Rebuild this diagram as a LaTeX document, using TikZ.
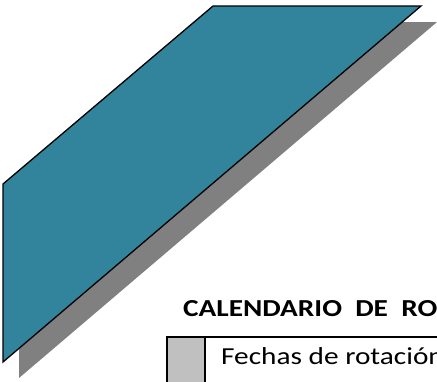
\documentclass[tikz,border=0pt]{standalone}
\usepackage{fontspec}
\setmainfont{Carlito}
\usetikzlibrary{calc,positioning}
\definecolor{banner}{HTML}{31849B}
\definecolor{shade}{HTML}{808080}
\definecolor{cell}{HTML}{C0C0C0}
\newcommand{\widen}[1]{\scalebox{1.2}[1]{#1}}
\tikzset{
  band/.style={fill=banner, draw=black, line width=1.3bp, line join=miter},
  shadow/.style={fill=shade},
  box/.style={draw=black, line width=1.3bp},
  head/.style={font=\fontsize{24.5}{30}\selectfont\bfseries, inner sep=0pt, anchor=base west},
  txt/.style={font=\fontsize{24.5}{30}\selectfont, inner sep=0pt, anchor=base west},
}
\begin{document}
\begin{tikzpicture}[x=1bp,y=-1bp]
  \useasboundingbox (0,0) rectangle (437,381);
  \clip (0,0) rectangle (437,381);
  \coordinate (A) at (3,184);
  \coordinate (B) at (213,6);
  \coordinate (C) at (421,6);
  \coordinate (D) at (3,362);

  % shadow behind the band
  \fill[shadow] ($(A)+(16,16)$) -- ($(B)+(16,16)$) -- ($(C)+(16,16)$) -- ($(D)+(16,16)$) -- cycle;
  \draw[band] (A) -- (B) -- (C) -- (D) -- cycle;

  \node[head] (title) at (183,316) {\widen{CALENDARIO~~DE~~RO}};

  % legend row
  \coordinate (R1) at (167,337);
  \coordinate (R2) at (205,400);
  \coordinate (R3) at (470,400);
  \fill[cell] (R1) rectangle (R2);
  \draw[box] (R1) rectangle (R3);
  \draw[box] (R1 -| R2) -- (R2);
  \node[txt] (dates) at (221,364) {\widen{Fechas de rotación}};
\end{tikzpicture}
\end{document}
